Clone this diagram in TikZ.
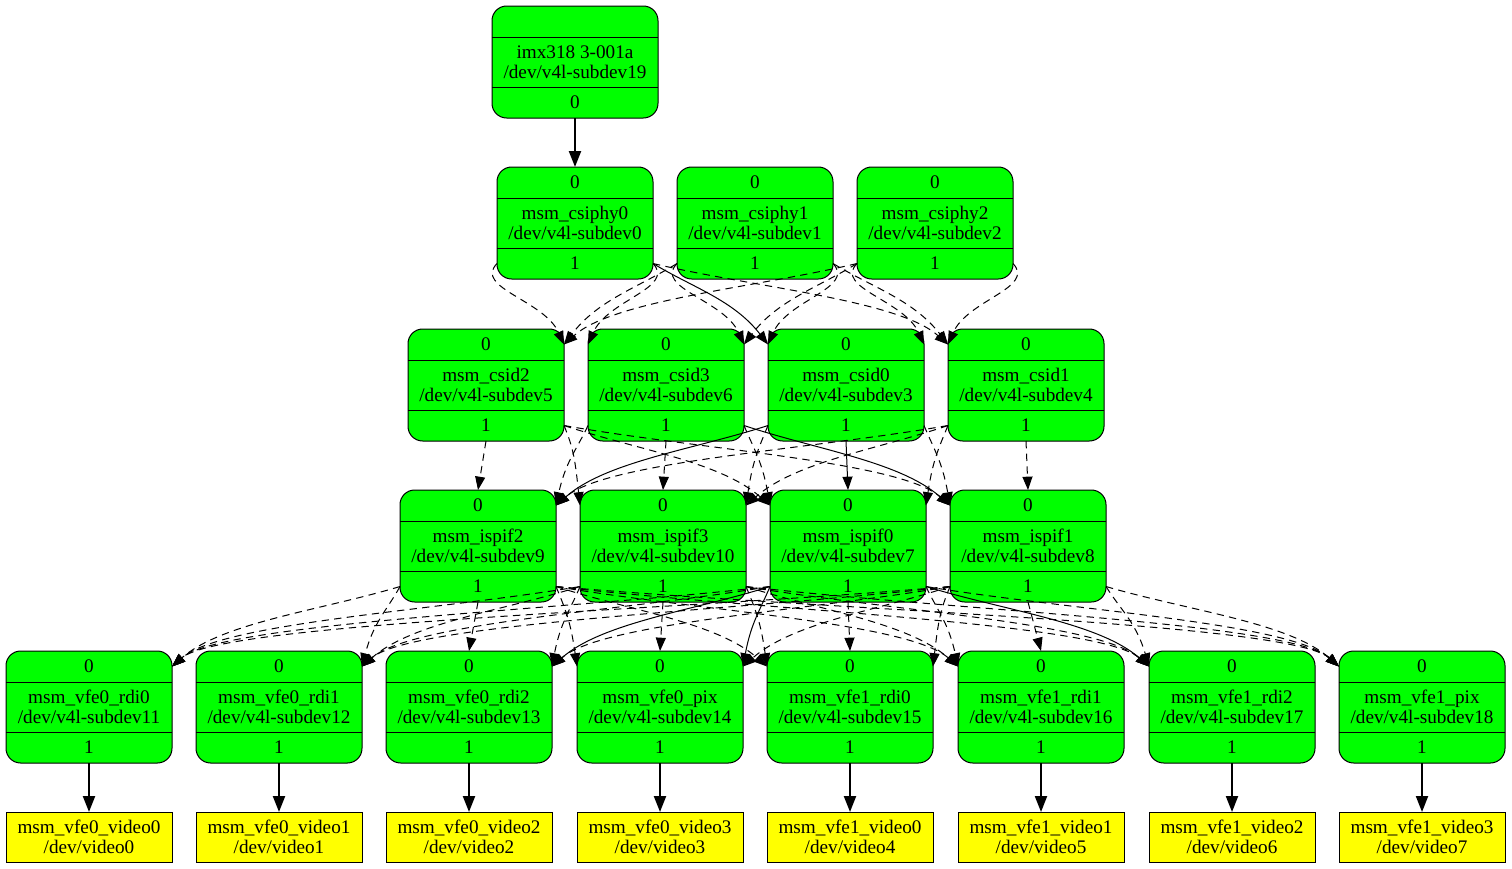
\documentclass[tikz,border=0pt]{standalone}
\usepackage{fontspec}
\setmainfont{Liberation Serif}
\usetikzlibrary{arrows.meta,calc}
\definecolor{gvgreen}{HTML}{00FF00}
\definecolor{gvyellow}{HTML}{FFFF00}
\newcommand\gvfont{\fontsize{14.4pt}{15pt}\selectfont}
\tikzset{
 gb/.style={draw=black, fill=gvgreen, line width=0.75pt, rounded corners=11pt, inner sep=0pt, outer sep=0pt},
 yb/.style={draw=black, fill=gvyellow, line width=0.75pt, inner sep=0pt, outer sep=0pt, align=center, font=\gvfont},
 txt/.style={inner sep=0pt, outer sep=0pt, font=\gvfont, align=center},
 divline/.style={line width=0.75pt},
 dashlink/.style={draw, line width=0.75pt, dash pattern=on 5.5pt off 4pt, -{Triangle[length=10pt,width=7.5pt]}},
 sollink/.style={draw, line width=0.75pt, -{Triangle[length=10pt,width=7.5pt]}},
 boldlink/.style={draw, line width=1.6pt, -{Triangle[length=12pt,width=9pt]}}
}
\newcommand\gbox[8]{%
  \node[gb, minimum width={(#3-#2)*0.75pt}, minimum height=84pt] (#1) at ({(#2+#3)/2},{#4+56}) {};
  \draw[divline] (#2,{#4+31}) -- (#3,{#4+31}) (#2,{#4+81}) -- (#3,{#4+81});
  \node[txt] (#1-p0) at ({(#2+#3)/2},{#4+15.5}) {#5};
  \node[txt] (#1-lbl) at ({(#2+#3)/2},{#4+56}) {#6\\#7};
  \node[txt] (#1-p1) at ({(#2+#3)/2},{#4+96.5}) {#8};
  \coordinate (#1-tl) at (#2,{#4+15.5});
  \coordinate (#1-tr) at (#3,{#4+15.5});
  \coordinate (#1-bl) at (#2,{#4+96.5});
  \coordinate (#1-br) at (#3,{#4+96.5});
}
\newcommand\ybox[5]{%
  \node[yb, minimum width={(#3-#2)*0.75pt}, minimum height=37.5pt] (#1) at ({(#2+#3)/2},837) {#4\\#5};
}
\newcommand\lnk[4][dashlink]{%
  \draw[#1] let \p1=(#2), \p2=(#4),
    \n1={abs(\x2-\x1)},
    \n2={max(0.35*\n1,7.5pt)},
    \n3={min(0.3*\n1,37.5pt)},
    \n4={sign(\x1-\x2)}
  in (\p1) .. controls ({\x1+(#3)*\n2},{\y1+0.3*(\y2-\y1)}) and ({\x2+\n4*\n3},{\y2-0.55*(\y2-\y1)}) .. (\p2);
}
\begin{document}
\begin{tikzpicture}[x=0.75pt,y=-0.75pt]
\useasboundingbox (0,0) rectangle (1512,868);
% sensor
\gbox{imx}{492}{658}{6}{}{imx318 3-001a}{/dev/v4l-subdev19}{0}
% csiphy
\gbox{csiphy0}{497}{653}{167}{0}{msm\_csiphy0}{/dev/v4l-subdev0}{1}
\gbox{csiphy1}{677}{833}{167}{0}{msm\_csiphy1}{/dev/v4l-subdev1}{1}
\gbox{csiphy2}{857}{1013}{167}{0}{msm\_csiphy2}{/dev/v4l-subdev2}{1}
% csid
\gbox{csid2}{408}{564}{329}{0}{msm\_csid2}{/dev/v4l-subdev5}{1}
\gbox{csid3}{588}{744}{329}{0}{msm\_csid3}{/dev/v4l-subdev6}{1}
\gbox{csid0}{768}{924}{329}{0}{msm\_csid0}{/dev/v4l-subdev3}{1}
\gbox{csid1}{948}{1104}{329}{0}{msm\_csid1}{/dev/v4l-subdev4}{1}
% ispif
\gbox{ispif2}{400}{556}{490}{0}{msm\_ispif2}{/dev/v4l-subdev9}{1}
\gbox{ispif3}{580}{746}{490}{0}{msm\_ispif3}{/dev/v4l-subdev10}{1}
\gbox{ispif0}{770}{926}{490}{0}{msm\_ispif0}{/dev/v4l-subdev7}{1}
\gbox{ispif1}{950}{1106}{490}{0}{msm\_ispif1}{/dev/v4l-subdev8}{1}
% vfe
\gbox{vfe0rdi0}{6}{172}{651}{0}{msm\_vfe0\_rdi0}{/dev/v4l-subdev11}{1}
\gbox{vfe0rdi1}{196}{362}{651}{0}{msm\_vfe0\_rdi1}{/dev/v4l-subdev12}{1}
\gbox{vfe0rdi2}{386}{552}{651}{0}{msm\_vfe0\_rdi2}{/dev/v4l-subdev13}{1}
\gbox{vfe0pix}{577}{743}{651}{0}{msm\_vfe0\_pix}{/dev/v4l-subdev14}{1}
\gbox{vfe1rdi0}{767}{933}{651}{0}{msm\_vfe1\_rdi0}{/dev/v4l-subdev15}{1}
\gbox{vfe1rdi1}{958}{1124}{651}{0}{msm\_vfe1\_rdi1}{/dev/v4l-subdev16}{1}
\gbox{vfe1rdi2}{1149}{1315}{651}{0}{msm\_vfe1\_rdi2}{/dev/v4l-subdev17}{1}
\gbox{vfe1pix}{1339}{1505}{651}{0}{msm\_vfe1\_pix}{/dev/v4l-subdev18}{1}
% video
\ybox{vid0}{6}{172}{msm\_vfe0\_video0}{/dev/video0}
\ybox{vid1}{196}{362}{msm\_vfe0\_video1}{/dev/video1}
\ybox{vid2}{386}{552}{msm\_vfe0\_video2}{/dev/video2}
\ybox{vid3}{577}{743}{msm\_vfe0\_video3}{/dev/video3}
\ybox{vid4}{767}{933}{msm\_vfe1\_video0}{/dev/video4}
\ybox{vid5}{958}{1124}{msm\_vfe1\_video1}{/dev/video5}
\ybox{vid6}{1149}{1315}{msm\_vfe1\_video2}{/dev/video6}
\ybox{vid7}{1339}{1505}{msm\_vfe1\_video3}{/dev/video7}

% sensor -> csiphy0
\draw[boldlink] (imx.south) -- (csiphy0.north);

% csiphy -> csid
\lnk{csiphy0-bl}{-1}{csid2-tr}
\lnk{csiphy0-br}{1}{csid3-tl}
\lnk[sollink]{csiphy0-br}{1}{csid0-tl}
\lnk{csiphy0-br}{1}{csid1-tl}
\lnk{csiphy1-bl}{-1}{csid2-tr}
\lnk{csiphy1-bl}{-1}{csid3-tr}
\lnk{csiphy1-br}{1}{csid0-tl}
\lnk{csiphy1-br}{1}{csid1-tl}
\lnk{csiphy2-bl}{-1}{csid2-tr}
\lnk{csiphy2-bl}{-1}{csid3-tr}
\lnk{csiphy2-bl}{-1}{csid0-tr}
\lnk{csiphy2-br}{1}{csid1-tl}

% csid -> ispif
\draw[dashlink] (csid2.south) -- (ispif2.north);
\lnk{csid2-br}{1}{ispif3-tl}
\lnk{csid2-br}{1}{ispif0-tl}
\lnk{csid2-br}{1}{ispif1-tl}
\lnk{csid3-bl}{-1}{ispif2-tr}
\draw[dashlink] (csid3.south) -- (ispif3.north);
\lnk{csid3-br}{1}{ispif0-tl}
\lnk[sollink]{csid3-br}{1}{ispif1-tl}
\lnk[sollink]{csid0-bl}{-1}{ispif2-tr}
\lnk{csid0-bl}{-1}{ispif3-tr}
\draw[sollink] (csid0.south) -- (ispif0.north);
\lnk{csid0-br}{1}{ispif1-tl}
\lnk{csid1-bl}{-1}{ispif2-tr}
\lnk{csid1-bl}{-1}{ispif3-tr}
\lnk{csid1-bl}{-1}{ispif0-tr}
\draw[dashlink] (csid1.south) -- (ispif1.north);

% ispif2 -> vfe
\lnk{ispif2-bl}{-1}{vfe0rdi0-tr}
\lnk{ispif2-bl}{-1}{vfe0rdi1-tr}
\draw[dashlink] (ispif2.south) -- (vfe0rdi2.north);
\lnk{ispif2-br}{1}{vfe0pix-tl}
\lnk{ispif2-br}{1}{vfe1rdi0-tl}
\lnk{ispif2-br}{1}{vfe1rdi1-tl}
\lnk{ispif2-br}{1}{vfe1rdi2-tl}
\lnk{ispif2-br}{1}{vfe1pix-tl}
% ispif3 -> vfe
\lnk{ispif3-bl}{-1}{vfe0rdi0-tr}
\lnk{ispif3-bl}{-1}{vfe0rdi1-tr}
\lnk{ispif3-bl}{-1}{vfe0rdi2-tr}
\draw[dashlink] (ispif3.south) -- (vfe0pix.north);
\lnk{ispif3-br}{1}{vfe1rdi0-tl}
\lnk{ispif3-br}{1}{vfe1rdi1-tl}
\lnk{ispif3-br}{1}{vfe1rdi2-tl}
\lnk{ispif3-br}{1}{vfe1pix-tl}
% ispif0 -> vfe
\lnk{ispif0-bl}{-1}{vfe0rdi0-tr}
\lnk{ispif0-bl}{-1}{vfe0rdi1-tr}
\lnk[sollink]{ispif0-bl}{-1}{vfe0rdi2-tr}
\lnk[sollink]{ispif0-bl}{-1}{vfe0pix-tr}
\draw[dashlink] (ispif0.south) -- (vfe1rdi0.north);
\lnk{ispif0-br}{1}{vfe1rdi1-tl}
\lnk[sollink]{ispif0-br}{1}{vfe1rdi2-tl}
\lnk{ispif0-br}{1}{vfe1pix-tl}
% ispif1 -> vfe
\lnk{ispif1-bl}{-1}{vfe0rdi0-tr}
\lnk{ispif1-bl}{-1}{vfe0rdi1-tr}
\lnk{ispif1-bl}{-1}{vfe0rdi2-tr}
\lnk{ispif1-bl}{-1}{vfe0pix-tr}
\lnk{ispif1-bl}{-1}{vfe1rdi0-tr}
\draw[dashlink] (ispif1.south) -- (vfe1rdi1.north);
\lnk{ispif1-br}{1}{vfe1rdi2-tl}
\lnk{ispif1-br}{1}{vfe1pix-tl}

% vfe -> video
\draw[boldlink] (vfe0rdi0.south) -- (vid0.north);
\draw[boldlink] (vfe0rdi1.south) -- (vid1.north);
\draw[boldlink] (vfe0rdi2.south) -- (vid2.north);
\draw[boldlink] (vfe0pix.south) -- (vid3.north);
\draw[boldlink] (vfe1rdi0.south) -- (vid4.north);
\draw[boldlink] (vfe1rdi1.south) -- (vid5.north);
\draw[boldlink] (vfe1rdi2.south) -- (vid6.north);
\draw[boldlink] (vfe1pix.south) -- (vid7.north);
\end{tikzpicture}
\end{document}
